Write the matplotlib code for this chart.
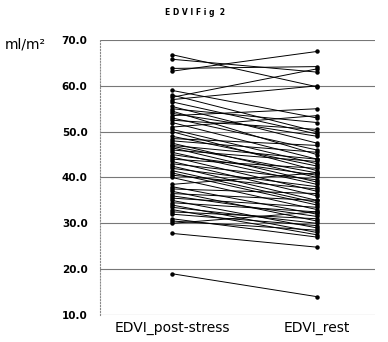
import matplotlib
matplotlib.use("Agg")
import matplotlib.pyplot as plt

# EDVI values (ml/m2), one pair per patient
post_stress = [66.8, 65.8, 63.8, 63.2, 59.0, 58.0, 57.5, 57.0, 56.5, 55.5,
               55.0, 54.5, 54.0, 53.5, 53.0, 52.5, 52.0, 51.0, 50.5, 50.0,
               49.0, 48.5, 48.0, 47.5, 47.0, 46.8, 46.5, 46.0, 45.5, 45.0,
               44.5, 44.0, 43.5, 43.0, 42.5, 42.0, 41.5, 41.0, 40.5, 40.0,
               38.5, 38.0, 37.5, 37.0, 36.5, 36.0, 35.5, 35.0, 34.5, 34.0,
               33.5, 33.0, 32.5, 32.0, 31.0, 30.5, 30.0, 27.8, 19.0]
rest = [59.8, 63.0, 64.2, 67.5, 53.0, 50.0, 63.7, 60.0, 49.5, 47.5,
        52.0, 45.0, 49.0, 55.0, 46.0, 50.5, 44.0, 53.5, 43.0, 41.5,
        42.5, 47.0, 45.5, 40.0, 44.0, 41.0, 39.0, 43.5, 38.5, 40.5,
        37.0, 42.0, 36.0, 39.5, 35.0, 38.0, 34.5, 34.0, 37.5, 33.0,
        41.0, 32.0, 36.5, 30.5, 35.0, 31.5, 33.5, 29.0, 32.5, 28.0,
        30.0, 27.5, 31.0, 29.5, 27.0, 28.5, 32.5, 24.8, 14.0]
labels = ["EDVI_post-stress", "EDVI_rest"]
yticks = [10, 20, 30, 40, 50, 60, 70]

fig = plt.figure(figsize=(3.88, 3.42), dpi=100)
ax = fig.add_axes([0.258, 0.079, 0.708, 0.804])

for a, b in zip(post_stress, rest):
    ax.plot([0, 1], [a, b], color="black", lw=0.7, marker="o", ms=2.2)

ax.set_xlim(-0.497, 1.40)
ax.set_ylim(10, 70)
ax.set_yticks(yticks)
ax.set_yticklabels(["%.1f" % v for v in yticks], fontsize=7.5, fontweight="bold")
ax.set_xticks([0, 1])
ax.set_xticklabels(labels, fontsize=10)
ax.tick_params(axis="both", length=0)
ax.tick_params(axis="y", pad=9)
ax.tick_params(axis="x", pad=4)
ax.yaxis.grid(True, color="#777777", lw=0.8)
ax.set_axisbelow(True)
for s in ["top", "right", "bottom"]:
    ax.spines[s].set_visible(False)
ax.spines["left"].set_linestyle(":")
ax.spines["left"].set_color("#888888")
ax.spines["left"].set_linewidth(0.8)

fig.text(0.013, 0.858, "ml/m²", fontsize=10)
fig.text(0.503, 0.955, "E D V I F i g  2", fontsize=5.5, ha="center", fontweight="bold")

fig.savefig("out.png", dpi=100)
